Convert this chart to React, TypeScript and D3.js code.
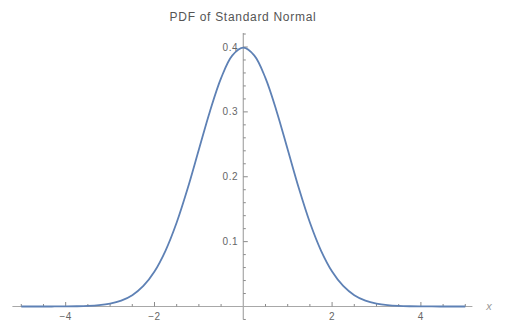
import React from "react";
import * as d3 from "d3";

const title = "PDF of Standard Normal";
const xValues = [
  -5, -4.75, -4.5, -4.25, -4, -3.75, -3.5, -3.25, -3, -2.75, -2.5, -2.25, -2, -1.75, -1.5, -1.25, -1, -0.75, -0.5, -0.25,
  0, 0.25, 0.5, 0.75, 1, 1.25, 1.5, 1.75, 2, 2.25, 2.5, 2.75, 3, 3.25, 3.5, 3.75, 4, 4.25, 4.5, 4.75, 5,
];
const pdfValues = [
  0.0000015, 0.0000051, 0.000016, 0.000047, 0.000134, 0.000353, 0.000873, 0.00203, 0.00443, 0.00909, 0.0175, 0.0317,
  0.054, 0.0863, 0.1295, 0.1826, 0.242, 0.3011, 0.3521, 0.3867, 0.3989, 0.3867, 0.3521, 0.3011, 0.242, 0.1826, 0.1295,
  0.0863, 0.054, 0.0317, 0.0175, 0.00909, 0.00443, 0.00203, 0.000873, 0.000353, 0.000134, 0.000047, 0.000016, 0.0000051,
  0.0000015,
];
const xMajorTicks = [-4, -2, 2, 4];
const xMinorTicks = [-5, -4.5, -3.5, -3, -2.5, -1.5, -1, -0.5, 0.5, 1, 1.5, 2.5, 3, 3.5, 4.5, 5];
const yMajorTicks = [0.1, 0.2, 0.3, 0.4];
const yMinorTicks = [-0.02, 0.02, 0.04, 0.06, 0.08, 0.12, 0.14, 0.16, 0.18, 0.22, 0.24, 0.26, 0.28, 0.32, 0.34, 0.36, 0.38, 0.42];

const W = 506;
const H = 330;

export default function App() {
  const x = d3.scaleLinear().domain([-5.2, 5.16]).range([12.4, 472.4]);
  const y = d3.scaleLinear().domain([0, 0.4]).range([306.5, 47]);
  const line = d3
    .line<number>()
    .x((_, i) => x(xValues[i]))
    .y((d) => y(d))
    .curve(d3.curveCatmullRom);
  const axisColor = "#a8a8a8";
  const tickColor = "#8a8a8a";
  const textColor = "#666";
  const font = "'Liberation Sans', Arial, sans-serif";
  const x0 = x(0);
  const y0 = y(0);
  const fmt = (v: number) => (v < 0 ? "\u2212" + Math.abs(v) : String(v));
  return (
    <svg width={W} height={H} style={{ position: "absolute", left: 0, top: 0, background: "#fff" }}>
      <text x={243} y={21} textAnchor="middle" fontFamily={font} fontSize={12} letterSpacing={0.7} fill="#555">
        {title}
      </text>
      {/* x axis */}
      <line x1={x.range()[0]} x2={x.range()[1]} y1={y0} y2={y0} stroke={axisColor} strokeWidth={1.2} />
      {xMinorTicks.map((t) => (
        <line key={"xm" + t} x1={x(t)} x2={x(t)} y1={y0} y2={y0 - 2.5} stroke={tickColor} strokeWidth={1} />
      ))}
      {xMajorTicks.map((t) => (
        <g key={"xM" + t}>
          <line x1={x(t)} x2={x(t)} y1={y0} y2={y0 - 4.5} stroke={tickColor} strokeWidth={1} />
          <text x={x(t)} y={320} textAnchor="middle" fontFamily={font} fontSize={10} letterSpacing={0.6} fill={textColor}>
            {fmt(t)}
          </text>
        </g>
      ))}
      <text x={489} y={310} textAnchor="middle" fontFamily={font} fontSize={11} fontStyle="italic" fill="#999">
        x
      </text>
      {/* y axis */}
      <line x1={x0} x2={x0} y1={y(0.42) - 1} y2={y(-0.02)} stroke={axisColor} strokeWidth={1.2} />
      {yMinorTicks.map((t) => (
        <line key={"ym" + t} x1={x0} x2={x0 + 2.5} y1={y(t)} y2={y(t)} stroke={tickColor} strokeWidth={1} />
      ))}
      {yMajorTicks.map((t) => (
        <g key={"yM" + t}>
          <line x1={x0} x2={x0 + 4.5} y1={y(t)} y2={y(t)} stroke={tickColor} strokeWidth={1} />
          <text x={x0 - 5} y={y(t) + 3.5} textAnchor="end" fontFamily={font} fontSize={10} letterSpacing={0.6} fill={textColor}>
            {t.toFixed(1)}
          </text>
        </g>
      ))}
      <path d={line(pdfValues) || ""} fill="none" stroke="#5E81B5" strokeWidth={1.8} />
    </svg>
  );
}
